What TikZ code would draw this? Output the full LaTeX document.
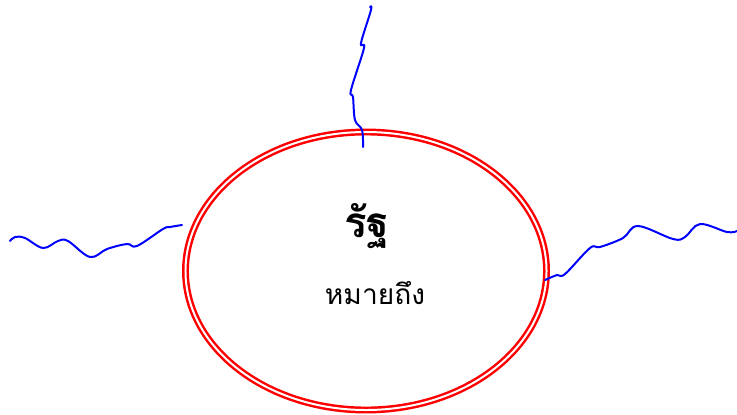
\documentclass[tikz,border=0pt]{standalone}
\usepackage{fontspec}
\newfontfamily\thaifont[Script=Thai]{Loma}
\usetikzlibrary{shapes.geometric}

\begin{document}
\begin{tikzpicture}[x=0.03cm, y=-0.03cm, every node/.style={font=\thaifont}, rim/.style={draw=red, double=white, ellipse, line width=2.1pt, double distance=1.7pt, inner sep=0pt}, river/.style={blue, line width=1.7pt, line join=round, line cap=round}]
	\useasboundingbox (0,0) rectangle (737,414);
	\node[rim, minimum width=10.83cm, minimum height=8.34cm] (state) at (366,271) {};
	\node[anchor=base, font=\thaifont\bfseries\fontsize{36}{40}\selectfont] (title) at (367,237) {รัฐ};
	\node[anchor=base, font=\thaifont\fontsize{24}{28}\selectfont] (meaning) at (375,304) {หมายถึง};
	\draw[river] plot[smooth, tension=0.6] coordinates {(370,7) (371,10) (361,43) (364,48) (351,90) (353,97) (355,120) (362,130) (363,147)};
	\draw[river] plot[smooth, tension=0.6] coordinates {(10,241) (15,237) (25,238) (43,248) (58,241) (68,241) (90,257) (107,249) (127,244) (137,246) (163,229) (170,227) (182,225)};
	\draw[river] plot[smooth, tension=0.6] coordinates {(545,280) (557,275) (565,274) (590,248) (600,247) (623,238) (638,226) (673,239) (685,237) (700,224) (727,232) (737,231)};
\end{tikzpicture}
\end{document}
